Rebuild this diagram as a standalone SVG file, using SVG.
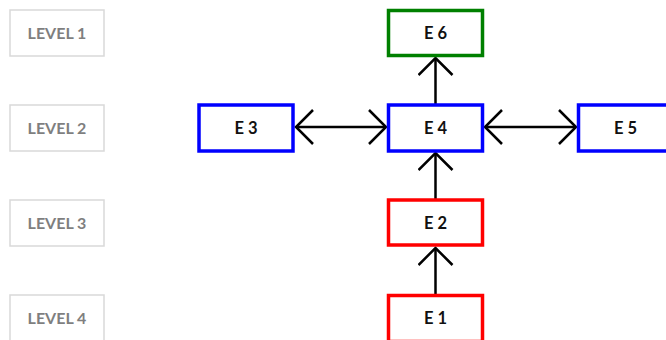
<svg xmlns="http://www.w3.org/2000/svg" width="666" height="340" viewBox="0 0 666 340">
<style>
.lvl rect{fill:#fff;stroke:#d9d9d9;stroke-width:1.5}
.lvl text{font-family:Lato,"Open Sans","Liberation Sans",sans-serif;font-weight:bold;font-size:16px;fill:#7f7f7f;text-anchor:middle}
.node rect{fill:#fff;stroke-width:3.5}
.node text{font-family:Lato,"Open Sans","Liberation Sans",sans-serif;font-weight:bold;font-size:16.5px;fill:#111;text-anchor:middle}
.blue rect{stroke:#0000ff}
.red rect{stroke:#ff0000}
.green rect{stroke:#008000}
.conn line{stroke:#000;stroke-width:2.5;fill:none}
</style>
<defs>
<marker id="ah" markerUnits="userSpaceOnUse" markerWidth="30" markerHeight="40" refX="20" refY="18" orient="auto-start-reverse" viewBox="0 0 30 40">
<path d="M3,1 L20,18 L3,35" fill="none" stroke="#000" stroke-width="2.5"/>
</marker>
</defs>
<rect width="666" height="340" fill="#fff"/>
<g id="level1" class="lvl"><rect x="10" y="10" width="94" height="46"/><text x="57" y="39">LEVEL 1</text></g>
<g id="level2" class="lvl"><rect x="10" y="105" width="94" height="46"/><text x="57" y="134">LEVEL 2</text></g>
<g id="level3" class="lvl"><rect x="10" y="200" width="94" height="46"/><text x="57" y="229">LEVEL 3</text></g>
<g id="level4" class="lvl"><rect x="10" y="295" width="94" height="46"/><text x="57" y="324">LEVEL 4</text></g>
<g id="conns" class="conn">
<line x1="435.5" y1="104" x2="435.5" y2="58" marker-end="url(#ah)"/>
<line x1="435.5" y1="199" x2="435.5" y2="153" marker-end="url(#ah)"/>
<line x1="435.5" y1="294" x2="435.5" y2="248" marker-end="url(#ah)"/>
<line x1="296" y1="127" x2="386" y2="127" marker-start="url(#ah)" marker-end="url(#ah)"/>
<line x1="485" y1="127" x2="576" y2="127" marker-start="url(#ah)" marker-end="url(#ah)"/>
</g>
<g id="E6" class="node green"><rect x="388.5" y="10.5" width="94" height="45"/><text x="435.5" y="39">E 6</text></g>
<g id="E4" class="node blue"><rect x="388.5" y="105" width="94" height="46"/><text x="435.5" y="133.5">E 4</text></g>
<g id="E3" class="node blue"><rect x="199" y="105" width="94" height="46"/><text x="246" y="133.5">E 3</text></g>
<g id="E5" class="node blue"><rect x="578.5" y="105" width="94" height="46"/><text x="625.5" y="133.5">E 5</text></g>
<g id="E2" class="node red"><rect x="388.5" y="200" width="94" height="45"/><text x="435.5" y="228.5">E 2</text></g>
<g id="E1" class="node red"><rect x="388.5" y="295.5" width="94" height="46"/><text x="435.5" y="323.5">E 1</text></g>
</svg>
